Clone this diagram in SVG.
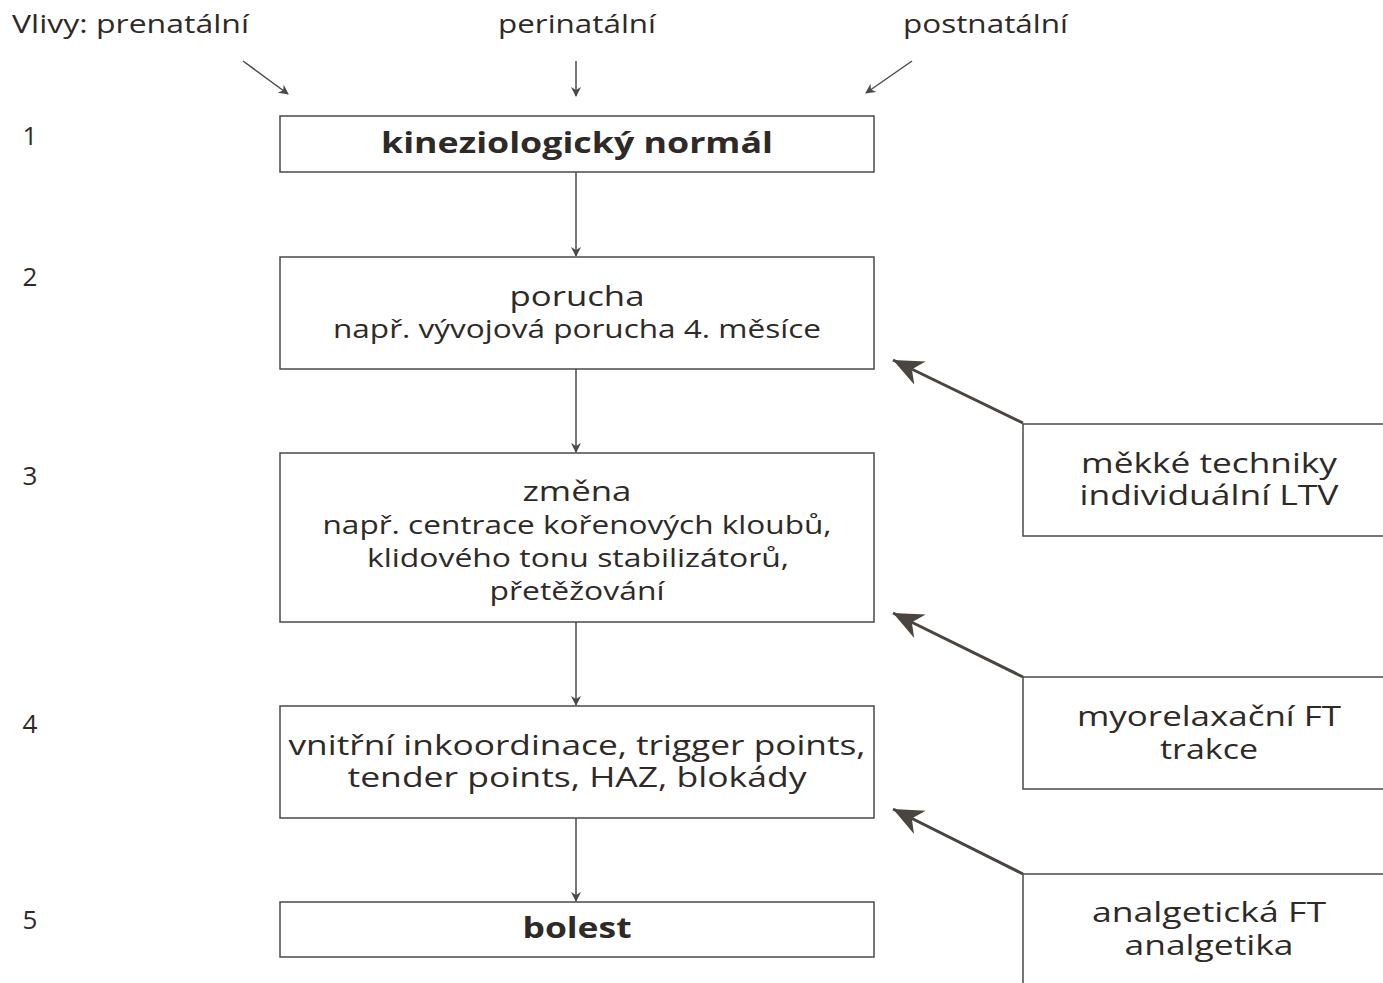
<svg xmlns="http://www.w3.org/2000/svg" width="1383" height="983" viewBox="0 0 1383 983">
<style>
.box{fill:#fff;stroke:#4a4a4a;stroke-width:1.5}
.t{font-family:"Open Sans","Noto Sans",sans-serif;fill:#2e2a28;text-anchor:middle;font-size:28px}
.b{font-weight:bold;font-size:28px}
.s{font-size:26px}
.top{font-family:"Open Sans","Noto Sans",sans-serif;fill:#2e2a28;font-size:26px}
.num{font-family:"Open Sans",sans-serif;fill:#2e2a28;font-size:26px;text-anchor:middle}
.ln{stroke:#4a4a4a;stroke-width:1.5;fill:none}
.dl{stroke:#4a4540;stroke-width:3;fill:none}
</style>
<defs>
<marker id="ah" markerWidth="10" markerHeight="10" refX="9" refY="5" orient="auto" markerUnits="userSpaceOnUse">
<path d="M0,0 L10,5 L0,10 L3,5 Z" fill="#4a4a4a"/>
</marker>
<marker id="big" markerWidth="34" markerHeight="30" refX="30" refY="15" orient="auto" markerUnits="userSpaceOnUse">
<path d="M0,2 L30,15 L0,28 L9,15 Z" fill="#4a4540"/>
</marker>
</defs>
<rect width="1383" height="983" fill="#fff"/>
<g id="labels">
<text class="top" x="12" y="33" textLength="237" lengthAdjust="spacingAndGlyphs">Vlivy: prenatální</text>
<text class="top" x="498" y="33" textLength="158" lengthAdjust="spacingAndGlyphs">perinatální</text>
<text class="top" x="903" y="33" textLength="165" lengthAdjust="spacingAndGlyphs">postnatální</text>
<text class="num" x="30" y="145">1</text>
<text class="num" x="30" y="286">2</text>
<text class="num" x="30" y="485">3</text>
<text class="num" x="30" y="733">4</text>
<text class="num" x="30" y="929">5</text>
</g>
<g id="connectors">
<line class="ln" x1="243" y1="61" x2="288" y2="94" marker-end="url(#ah)"/>
<line class="ln" x1="576" y1="61" x2="576" y2="96" marker-end="url(#ah)"/>
<line class="ln" x1="912" y1="61" x2="866" y2="93" marker-end="url(#ah)"/>
<line class="ln" x1="576" y1="172" x2="576" y2="256" marker-end="url(#ah)"/>
<line class="ln" x1="576" y1="369" x2="576" y2="452" marker-end="url(#ah)"/>
<line class="ln" x1="576" y1="622" x2="576" y2="705" marker-end="url(#ah)"/>
<line class="ln" x1="576" y1="818" x2="576" y2="901" marker-end="url(#ah)"/>
<line class="dl" x1="1023" y1="423" x2="893" y2="360" marker-end="url(#big)"/>
<line class="dl" x1="1023" y1="677" x2="893" y2="613" marker-end="url(#big)"/>
<line class="dl" x1="1023" y1="874" x2="893" y2="809" marker-end="url(#big)"/>
</g>
<g id="n1"><rect class="box" x="280" y="116" width="594" height="56"/><text class="t b" x="577" y="153" textLength="392" lengthAdjust="spacingAndGlyphs">kineziologický normál</text></g>
<g id="n2"><rect class="box" x="280" y="257" width="594" height="112"/><text class="t" x="577" y="306" textLength="135" lengthAdjust="spacingAndGlyphs">porucha</text><text class="t s" x="577" y="338" textLength="488" lengthAdjust="spacingAndGlyphs">např. vývojová porucha 4. měsíce</text></g>
<g id="n3"><rect class="box" x="280" y="453" width="594" height="169"/><text class="t" x="577" y="501" textLength="109" lengthAdjust="spacingAndGlyphs">změna</text><text class="t s" x="577" y="534" textLength="509" lengthAdjust="spacingAndGlyphs">např. centrace kořenových kloubů,</text><text class="t s" x="578" y="567" textLength="422" lengthAdjust="spacingAndGlyphs">klidového tonu stabilizátorů,</text><text class="t s" x="577" y="600" textLength="175" lengthAdjust="spacingAndGlyphs">přetěžování</text></g>
<g id="n4"><rect class="box" x="280" y="706" width="594" height="112"/><text class="t" x="577" y="755" textLength="577" lengthAdjust="spacingAndGlyphs">vnitřní inkoordinace, trigger points,</text><text class="t" x="577" y="787" textLength="459" lengthAdjust="spacingAndGlyphs">tender points, HAZ, blokády</text></g>
<g id="n5"><rect class="box" x="280" y="902" width="594" height="55"/><text class="t b" x="577" y="938" textLength="109" lengthAdjust="spacingAndGlyphs">bolest</text></g>
<g id="r1"><path class="ln" d="M1390,424 H1023 V536 H1390"/><text class="t" x="1209" y="473" textLength="256" lengthAdjust="spacingAndGlyphs">měkké techniky</text><text class="t" x="1209" y="505" textLength="259" lengthAdjust="spacingAndGlyphs">individuální LTV</text></g>
<g id="r2"><path class="ln" d="M1390,677 H1023 V789 H1390"/><text class="t" x="1209" y="726" textLength="264" lengthAdjust="spacingAndGlyphs">myorelaxační FT</text><text class="t" x="1209" y="759" textLength="98" lengthAdjust="spacingAndGlyphs">trakce</text></g>
<g id="r3"><path class="ln" d="M1390,874 H1023 V990"/><text class="t" x="1209" y="922" textLength="234" lengthAdjust="spacingAndGlyphs">analgetická FT</text><text class="t" x="1209" y="955" textLength="169" lengthAdjust="spacingAndGlyphs">analgetika</text></g>
</svg>
